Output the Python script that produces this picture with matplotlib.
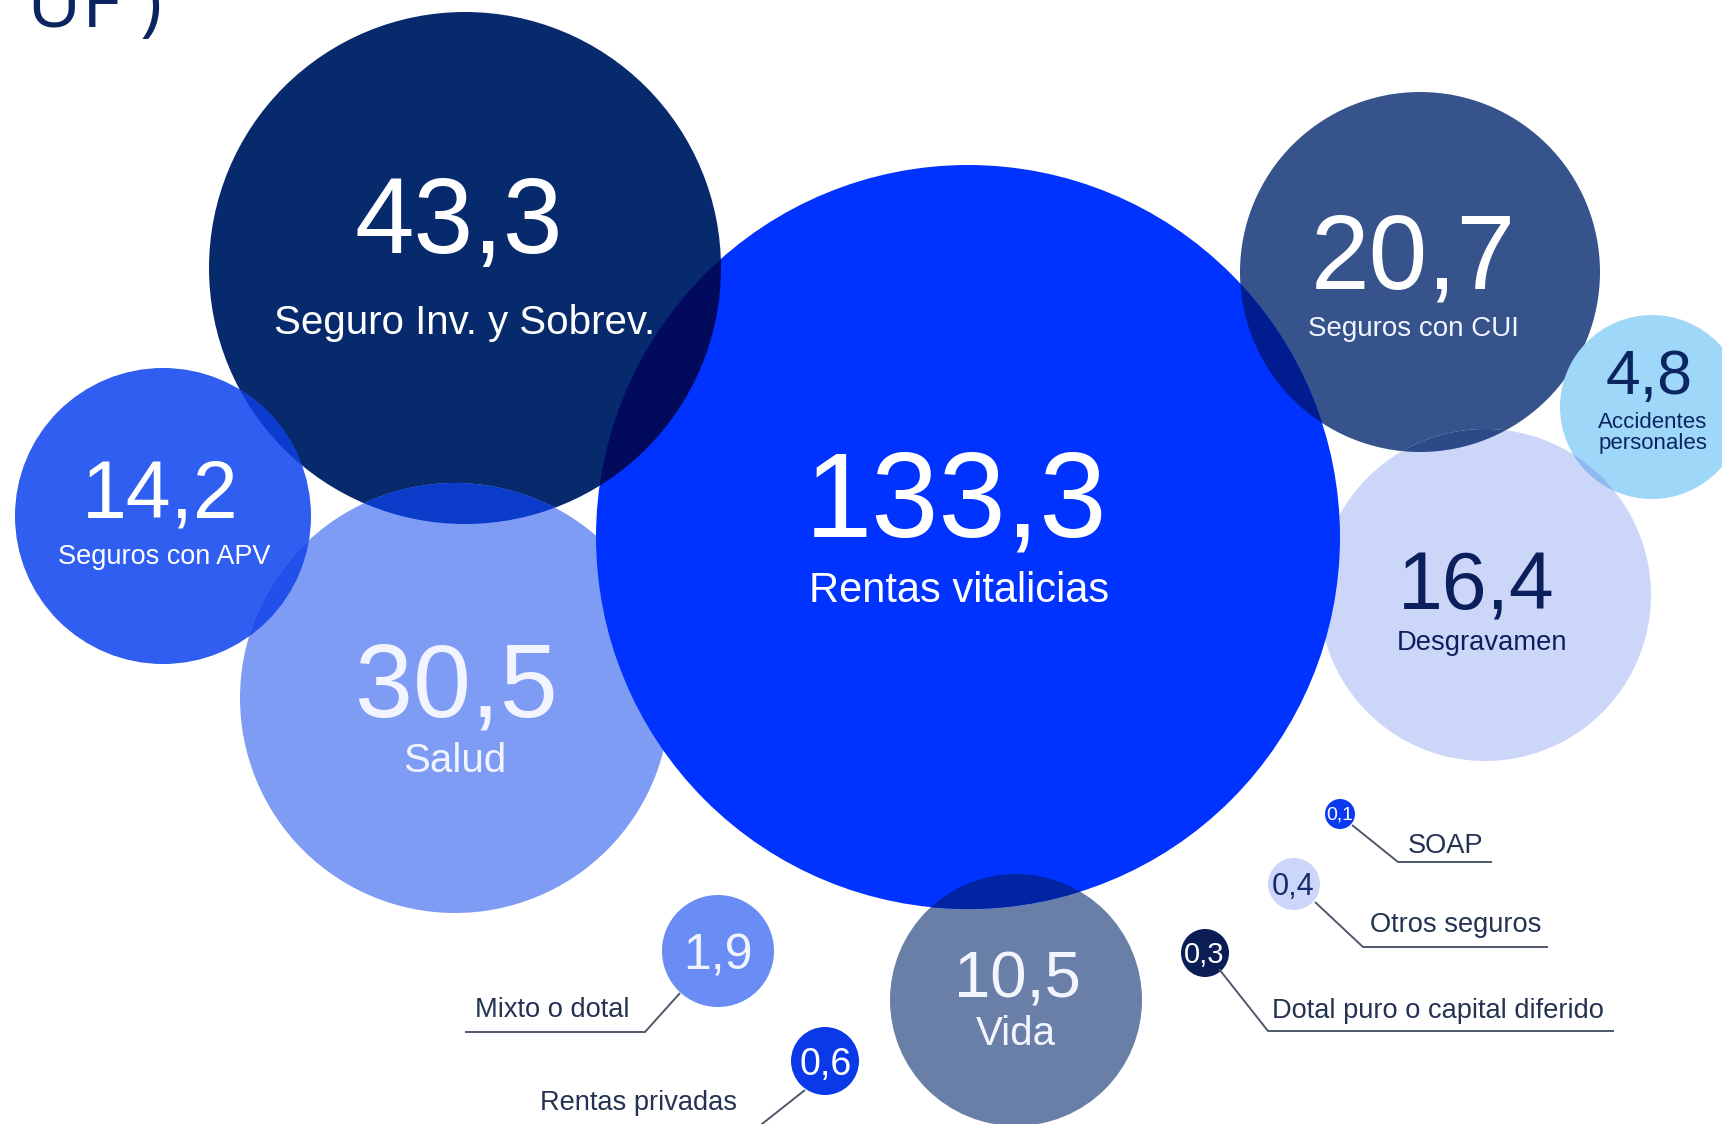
import matplotlib
matplotlib.use("Agg")
import matplotlib.pyplot as plt
from matplotlib.patches import Circle

# ---- data -------------------------------------------------------------
categories = [
    "Rentas vitalicias", "Seguro Inv. y Sobrev.", "Salud", "Seguros con CUI",
    "Desgravamen", "Seguros con APV", "Vida", "Accidentes personales",
    "Mixto o dotal", "Rentas privadas", "Otros seguros",
    "Dotal puro o capital diferido", "SOAP",
]
values = [133.3, 43.3, 30.5, 20.7, 16.4, 14.2, 10.5, 4.8, 1.9, 0.6, 0.4, 0.3, 0.1]
title_tail = "UF )"

# ---- layout (pixel space, y grows downward) ---------------------------
# center x, center y, radius, fill colour
bubbles = {
    "Seguro Inv. y Sobrev.":         (465, 268, 256, "#072a6c"),
    "Seguros con APV":               (163, 516, 148, "#2f5ef0"),
    "Salud":                         (455, 698, 215, "#7f9cf5"),
    "Seguros con CUI":               (1420, 272, 180, "#36538c"),
    "Desgravamen":                   (1485, 595, 166, "#ccd6f9"),
    "Accidentes personales":         (1652, 407, 92, "#9fd7f8"),
    "Vida":                          (1016, 1000, 126, "#6a7fa8"),
    "Rentas vitalicias":             (968, 537, 372, "#0033ff"),
    "Mixto o dotal":                 (718, 951, 56, "#6a8cf5"),
    "Rentas privadas":               (825, 1061, 34, "#0a3ae8"),
    "Otros seguros":                 (1294, 884, 26, "#ccd6f9"),
    "Dotal puro o capital diferido": (1205, 953, 24, "#0a1e55"),
    "SOAP":                          (1340, 814, 15, "#0a3af0"),
}

# colour of the lens where two bubbles overlap
overlaps = [
    ("Rentas vitalicias", "Seguro Inv. y Sobrev.", "#020a5c"),
    ("Rentas vitalicias", "Seguros con CUI", "#001c8e"),
    ("Rentas vitalicias", "Vida", "#0024a3"),
    ("Seguro Inv. y Sobrev.", "Seguros con APV", "#0b3ccf"),
    ("Seguro Inv. y Sobrev.", "Salud", "#0a3bc9"),
    ("Seguros con APV", "Salud", "#2150ea"),
    ("Seguros con CUI", "Desgravamen", "#2d4a88"),
    ("Desgravamen", "Accidentes personales", "#8db9f0"),
]

# value text: x, baseline y, size, colour
value_text = {
    "Rentas vitalicias":             (956, 536, 87, "white"),
    "Seguro Inv. y Sobrev.":         (459, 253, 77, "white"),
    "Salud":                         (456, 716, 75, "#f2f5ff"),
    "Seguros con CUI":               (1413, 288, 76, "white"),
    "Desgravamen":                   (1476, 609, 58, "#0b1f5c"),
    "Seguros con APV":               (160, 518, 58, "white"),
    "Vida":                          (1017, 997, 47, "#f2f5ff"),
    "Accidentes personales":         (1649, 394, 45, "#0b2560"),
    "Mixto o dotal":                 (718, 970, 36, "#f2f5ff"),
    "Rentas privadas":               (826, 1075, 27, "white"),
    "Otros seguros":                 (1293, 895, 22, "#1a2c6a"),
    "Dotal puro o capital diferido": (1204, 963, 21, "white"),
    "SOAP":                          (1340, 820, 14, "white"),
}

# category text inside bubbles: list of (text, x, baseline y, size, colour)
inner_labels = {
    "Rentas vitalicias":     [("Rentas vitalicias", 959, 602, 30, "white")],
    "Seguro Inv. y Sobrev.": [("Seguro Inv. y Sobrev.", 465, 334, 29, "white")],
    "Salud":                 [("Salud", 455, 772, 29, "#f2f5ff")],
    "Seguros con CUI":       [("Seguros con CUI", 1413, 336, 20, "#f2f5ff")],
    "Desgravamen":           [("Desgravamen", 1482, 650, 19.7, "#0b1f5c")],
    "Seguros con APV":       [("Seguros con APV", 164, 564, 19.5, "white")],
    "Vida":                  [("Vida", 1016, 1045, 29, "#f2f5ff")],
    "Accidentes personales": [("Accidentes", 1653, 428, 16, "#0b2560"),
                              ("personales", 1653, 449, 16, "#0b2560")],
}

# outside labels with leader lines: text x, baseline y, align, polyline
outer_labels = {
    "SOAP": (1408, 853, "left", [(1352, 825), (1398, 862), (1492, 862)]),
    "Otros seguros": (1370, 932, "left", [(1315, 902), (1363, 947), (1548, 947)]),
    "Dotal puro o capital diferido": (1272, 1018, "left",
                                      [(1219, 969), (1268, 1031), (1614, 1031)]),
    "Mixto o dotal": (475, 1017, "left", [(680, 993), (645, 1032), (465, 1032)]),
    "Rentas privadas": (540, 1110, "left", [(805, 1090), (748, 1135)]),
}

FONT = "Liberation Sans"
LABEL_COLOR = "#253352"
LINE_COLOR = "#4f586b"


def fmt(v):
    return f"{v:.1f}".replace(".", ",")


fig = plt.figure(figsize=(17.22, 11.24), dpi=100)
ax = fig.add_axes([0, 0, 1, 1])
ax.set_xlim(0, 1722)
ax.set_ylim(1124, 0)
ax.set_aspect("equal")
ax.axis("off")

# bubbles
patches = {}
for i, cat in enumerate(bubbles):
    x, y, r, c = bubbles[cat]
    p = Circle((x, y), r, facecolor=c, edgecolor="none", zorder=2 + i * 0.01)
    ax.add_patch(p)
    patches[cat] = p

# overlap lenses: second bubble clipped to the first
for a, b, c in overlaps:
    xb, yb, rb, _ = bubbles[b]
    lens = Circle((xb, yb), rb, facecolor=c, edgecolor="none", zorder=3)
    ax.add_patch(lens)
    lens.set_clip_path(patches[a])

# numbers
for cat, v in zip(categories, values):
    x, y, s, c = value_text[cat]
    ax.text(x, y, fmt(v), ha="center", va="baseline", fontsize=s, color=c,
            family=FONT, zorder=5)

# inner category labels
for cat, items in inner_labels.items():
    for t, x, y, s, c in items:
        ax.text(x, y, t, ha="center", va="baseline", fontsize=s, color=c,
                family=FONT, zorder=5)

# outer labels and leader lines
for cat, (x, y, ha, pts) in outer_labels.items():
    ax.text(x, y, cat, ha=ha, va="baseline", fontsize=19.6, color=LABEL_COLOR,
            family=FONT, zorder=5)
    xs, ys = zip(*pts)
    ax.plot(xs, ys, color=LINE_COLOR, lw=1.4, solid_capstyle="butt", zorder=4)

# tail of the heading, cropped by the top edge
ax.text(27, 27, title_tail, ha="left", va="baseline", fontsize=54,
        color="#0c2461", family="Open Sans", zorder=5, clip_on=False)

fig.savefig("out.png", dpi=100, facecolor="white")
